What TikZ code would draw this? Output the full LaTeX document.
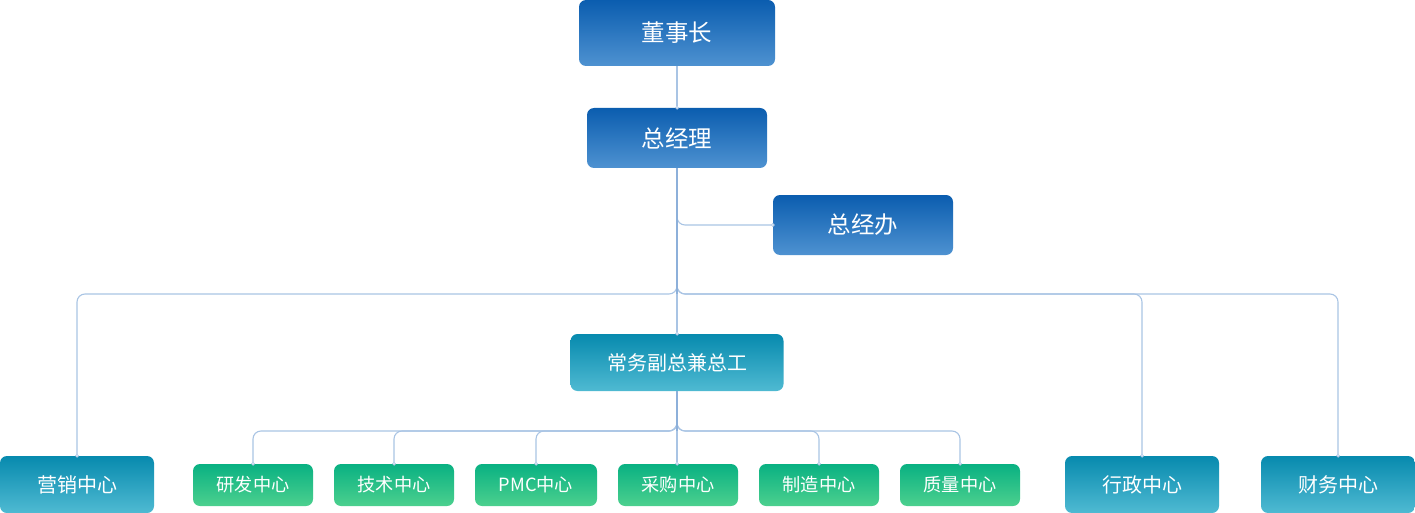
\documentclass[tikz,border=0pt]{standalone}
\usepackage{fontspec}
\setmainfont{Noto Sans CJK SC}
\usetikzlibrary{arrows.meta}
\definecolor{bluetop}{HTML}{0B5DAF}
\definecolor{bluebot}{HTML}{4E92D1}
\definecolor{tealtop}{HTML}{078AAE}
\definecolor{tealbot}{HTML}{4FBAD2}
\definecolor{greentop}{HTML}{09B182}
\definecolor{greenbot}{HTML}{4CD08E}
\definecolor{linec}{HTML}{A9C4E4}
\definecolor{trunkc}{HTML}{8DB0DA}
\tikzset{
  box/.style={rounded corners=7pt, text=white, inner sep=0pt, anchor=center},
  bluebox/.style={box, top color=bluetop, bottom color=bluebot, font=\fontsize{23.5}{27}\selectfont},
  tealbox/.style={box, top color=tealtop, bottom color=tealbot, font=\fontsize{20}{24}\selectfont},
  greenbox/.style={box, top color=greentop, bottom color=greenbot, font=\fontsize{18.2}{22}\selectfont},
  conn/.style={draw=linec, line width=1.1pt, rounded corners=8pt, -{Circle[open,length=3.6pt,width=3.6pt,fill=white,line width=0.7pt]}, shorten >=-1.8pt},
  trunk/.style={draw=trunkc, line width=1.2pt},
}
\begin{document}
\begin{tikzpicture}[x=1pt,y=-1pt]
\useasboundingbox (0,0) rectangle (1415,513);
% nodes
\node[bluebox, minimum width=196pt, minimum height=66pt] (dsz) at (677,33) {董事长};
\node[bluebox, minimum width=180pt, minimum height=60pt] (zjl) at (677,138) {总经理};
\node[bluebox, minimum width=180pt, minimum height=60pt] (zjb) at (863,225) {总经办};
\node[tealbox, minimum width=213pt, minimum height=57pt] (cw) at (677,362.5) {常务副总兼总工};
\node[tealbox, minimum width=154pt, minimum height=57pt] (yx) at (77,484.5) {营销中心};
\node[tealbox, minimum width=154pt, minimum height=57pt] (xz) at (1142,484.5) {行政中心};
\node[tealbox, minimum width=154pt, minimum height=57pt] (cwz) at (1338,484.5) {财务中心};
\node[greenbox, minimum width=120pt, minimum height=42pt] (yf) at (253,485) {研发中心};
\node[greenbox, minimum width=120pt, minimum height=42pt] (js) at (394,485) {技术中心};
\node[greenbox, minimum width=122pt, minimum height=42pt] (pmc) at (536,485) {PMC中心};
\node[greenbox, minimum width=120pt, minimum height=42pt] (cg) at (678,485) {采购中心};
\node[greenbox, minimum width=120pt, minimum height=42pt] (zz) at (819,485) {制造中心};
\node[greenbox, minimum width=120pt, minimum height=42pt] (zl) at (960,485) {质量中心};
% bus coordinates
\coordinate (bus1) at (677,294);
\coordinate (bus2) at (677,431);
% connectors
\draw[conn] (dsz.south) -- (zjl.north);
\draw[conn] (zjl.south) |- (zjb.west);
\draw[conn] (zjl.south) -- (zjl.south |- bus1) -| (yx.north);
\draw[conn] (zjl.south) -- (zjl.south |- bus1) -| (xz.north);
\draw[conn] (zjl.south) -- (zjl.south |- bus1) -| (cwz.north);
\draw[conn] (zjl.south) -- (cw.north);
\draw[trunk] (zjl.south) -- (zjl.south |- bus1);
\draw[conn] (cw.south) -- (cw.south |- bus2) -| (yf.north);
\draw[conn] (cw.south) -- (cw.south |- bus2) -| (js.north);
\draw[conn] (cw.south) -- (cw.south |- bus2) -| (pmc.north);
\draw[conn] (cw.south) -- (cw.south |- cg.north);
\draw[conn] (cw.south) -- (cw.south |- bus2) -| (zz.north);
\draw[conn] (cw.south) -- (cw.south |- bus2) -| (zl.north);
\draw[trunk] (cw.south) -- (cw.south |- bus2);
\end{tikzpicture}
\end{document}
